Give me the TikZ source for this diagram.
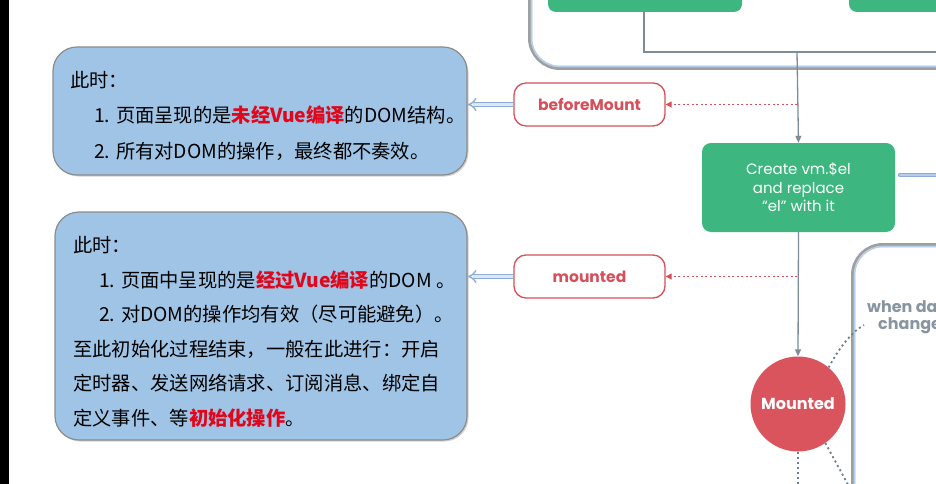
\documentclass[tikz,border=0pt]{standalone}
\usepackage{fontspec}
\newfontfamily\cjk{Noto Sans CJK SC}
\newfontfamily\pop{Poppins}
\usetikzlibrary{arrows.meta,shadows,calc}
\definecolor{bluefill}{HTML}{9FC4E6}
\definecolor{boxedge}{HTML}{8C8C8C}
\definecolor{vgreen}{HTML}{3DB67F}
\definecolor{hookred}{HTML}{D5505A}
\definecolor{hlred}{HTML}{E0061B}
\definecolor{circred}{HTML}{D9545C}
\definecolor{lgray}{HTML}{7D8C99}
\definecolor{wdgray}{HTML}{8895A1}
\definecolor{frameblue}{HTML}{B5CFEA}
\definecolor{arrblue}{HTML}{8EADD6}
\tikzset{
  infobox/.style={draw=boxedge, line width=1.2pt, fill=bluefill, rounded corners=24pt,
    drop shadow={shadow xshift=1.5pt, shadow yshift=-1.5pt, opacity=0.35, fill=gray}},
  txt/.style={anchor=base west, inner sep=0pt, font=\cjk\fontsize{19.3}{22}\selectfont},
  hook/.style={draw=hookred, line width=1.3pt, fill=white, rounded corners=12pt,
    minimum width=151pt, minimum height=43pt, text=hookred,
    font=\pop\bfseries\fontsize{15.5}{17}\selectfont},
  hollowarrow/.style={draw=arrblue, double=white!70!arrblue, double distance=3pt, line width=1.4pt, -{Implies}},
  hookarrow/.style={draw=hookred, line width=1.2pt, dash pattern=on 2pt off 2.5pt, -{Triangle[length=6pt,width=6pt]}},
  flow/.style={draw=lgray, line width=1.3pt, -{Triangle[length=7pt,width=6pt]}},
  dots/.style={draw=lgray!90!black, line width=1.8pt, dash pattern=on 2pt off 3pt},
  frame/.style={draw=gray!75, line width=4pt, rounded corners=30pt},
  frameinner/.style={draw=frameblue, line width=1.6pt, rounded corners=28pt},
  wdtext/.style={anchor=west, inner sep=0pt, text=wdgray, font=\pop\bfseries\fontsize{16}{18}\selectfont}
}
\newcommand{\redb}[1]{\textcolor{hlred}{\bfseries #1}}
\begin{document}
\begin{tikzpicture}[x=1pt,y=-1pt]
\useasboundingbox (0,0) rectangle (936,484);
\clip (0,0) rectangle (936,484);
\fill[white] (0,0) rectangle (936,484);
\fill[black] (0,0) rectangle (9,484);

% top container
\draw[frame] (530,-40) -- (530,68) -- (980,68);
\draw[frameinner] (531.5,-40) -- (531.5,66.5) -- (980,66.5);
\node[fill=vgreen, rounded corners=8pt, minimum width=194pt, minimum height=40pt] (g1) at (645,-8) {};
\node[fill=vgreen, rounded corners=8pt, minimum width=194pt, minimum height=40pt] (g2) at (946,-8) {};
\coordinate (j1) at (644,52);
\coordinate (j2) at (797,52);
\coordinate (j3) at (950,52);
\draw[lgray, line width=1.3pt] (g1.south -| j1) -- (j1) -- (j3);

% right container
\draw[frame] (853,520) -- (853,245) -- (980,245);
\draw[frameinner] (854.5,520) -- (854.5,246.5) -- (980,246.5);

% create box
\node[fill=vgreen, rounded corners=9pt, minimum width=193pt, minimum height=89pt, align=center,
  text=white, font=\pop\fontsize{15}{18.5}\selectfont] (create) at (798.5,187.5)
  {Create vm.\$el\\and replace\\“el” with it};
\coordinate (cr) at (945,175);
\draw[draw=arrblue, double=frameblue, double distance=2.5pt, line width=1.2pt, line cap=round] (create.east |- cr) ++(5,0) -- (cr);

% mounted circle
\node[circle, fill=circred, minimum size=95pt, text=white, font=\pop\bfseries\fontsize{16}{18}\selectfont] (mc) at (798,404) {Mounted};

% flow arrows
\draw[flow] (j2) -- (create.north);
\draw[flow] (create.south) -- (mc.north);

% hooks
\node[hook] (bm) at (589.5,104.5) {beforeMount};
\node[hook] (mt) at (589.5,276.5) {mounted};
\coordinate (bmj) at (797,104.5);
\coordinate (mtj) at (797,276.5);
\draw[hookarrow] (bmj) -- (bm.east);
\draw[hookarrow] (mtj) -- (mt.east);

% info boxes
\node[infobox, minimum width=414pt, minimum height=128pt] (box1) at (260,111) {};
\node[infobox, minimum width=412pt, minimum height=228pt] (box2) at (261,326) {};
\draw[hollowarrow] (bm.west) -- (box1.east |- bm.west);
\draw[hollowarrow] (mt.west) -- (box2.east |- mt.west);

% box1 text
\node[txt] (b1l0) at (70,88) {此时：};
\node[txt] (b1l1) at (94,123) {1. 页面呈现的是\redb{未经Vue编译}的DOM结构。};
\node[txt] (b1l2) at (94,158) {2. 所有对DOM的操作，最终都不奏效。};

% box2 text
\node[txt] (b2l0) at (73,252) {此时：};
\node[txt] (b2l1) at (99,287) {1. 页面中呈现的是\redb{经过Vue编译}的DOM 。};
\node[txt] (b2l2) at (99,321) {2. 对DOM的操作均有效（尽可能避免）。};
\node[txt] (b2l3) at (73,356) {至此初始化过程结束，一般在此进行：开启};
\node[txt] (b2l4) at (73,390) {定时器、发送网络请求、订阅消息、绑定自};
\node[txt] (b2l5) at (73,425) {定义事件、等\redb{初始化操作}。};

% when data changes
\node[wdtext] (wd1) at (867,307) {when data};
\node[wdtext] (wd2) at (878,326) {changes};
\coordinate (d1) at (864,325);
\coordinate (d2) at (852,492);
\coordinate (d3) at (798,492);
\draw[dots] (mc.50) .. controls (838,350) and (850,333) .. (d1);
\draw[dots] (mc.-55) -- (d2);
\draw[dots] (mc.south) -- (d3);
\end{tikzpicture}
\end{document}
